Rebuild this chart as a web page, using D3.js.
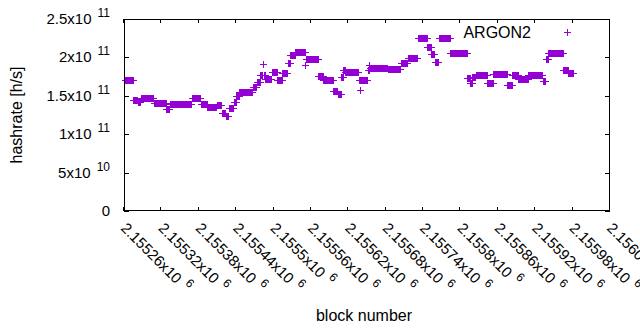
<!DOCTYPE html>
<html><head><meta charset="utf-8">
<script src="https://cdn.jsdelivr.net/npm/d3@7"></script>
<style>body{margin:0;background:#fff}svg{display:block}</style>
</head><body><svg id="c" width="640" height="330"></svg>
<script>
// Runs of consecutive blocks sharing the same hashrate (in units of 1e9 h/s)
const runStart = [2155262,2155275,2155282,2155287,2155308,2155328,2155334,2155369,2155383,2155394,2155409,2155417,2155423,2155428,2155436,2155440,2155445,2155467,2155473,2155479,2155483,2155484,2155487,2155497,2155506,2155514,2155523,2155527,2155535,2155551,2155552,2155572,2155580,2155596,2155603,2155609,2155612,2155615,2155637,2155639,2155640,2155651,2155654,2155655,2155683,2155704,2155715,2155732,2155747,2155753,2155759,2155765,2155784,2155811,2155816,2155819,2155825,2155843,2155853,2155875,2155883,2155893,2155909,2155932,2155937,2155941,2155965,2155973];
const runEnd = [2155274,2155281,2155286,2155307,2155327,2155333,2155368,2155382,2155393,2155408,2155416,2155422,2155427,2155435,2155439,2155444,2155466,2155472,2155478,2155482,2155483,2155486,2155496,2155505,2155513,2155522,2155526,2155534,2155550,2155551,2155571,2155579,2155595,2155602,2155608,2155611,2155614,2155636,2155638,2155639,2155650,2155653,2155654,2155682,2155703,2155714,2155731,2155746,2155752,2155758,2155764,2155783,2155810,2155815,2155818,2155824,2155842,2155852,2155874,2155882,2155892,2155908,2155931,2155936,2155940,2155964,2155972,2155981];
const runHashrate = [170.6,144.5,142,147.1,140,132.8,138.7,146.5,139.3,135,138,128,123.5,134.1,142,150,155.3,161.5,168,177.1,191.4,177.1,171.9,181.6,170.6,180.3,192.7,203.1,207,190,197.9,176.4,170.6,156.3,152.3,174.5,183.6,181,170.6,157.6,170.6,183.6,190.2,186.6,184.9,192.7,199.2,225.3,213.5,204.4,194,225.3,205.7,173.2,166.7,175,177.1,166.7,178.4,164.1,177.1,171.9,177.1,169.3,197.9,205.7,183.6,179.7];
const xTicks = [2155260,2155320,2155380,2155440,2155500,2155560,2155620,2155680,2155740,2155800,2155860,2155920,2155980,2156040];
const yTicks = [0,5e10,1e11,1.5e11,2e11,2.5e11];
const seriesName = "ARGON2";

const svg = d3.select("#c");
const L=124,R=610,T=19,B=211;
const color="#9400d3";
const font="'Liberation Sans', Arial, sans-serif";
const x = d3.scaleLinear().domain([2155260,2156040]).range([L,R]);
const y = d3.scaleLinear().domain([0,2.5e11]).range([B,T]);

// points
const pts=[];
runStart.forEach((s,i)=>{for(let b=s;b<=runEnd[i];b++)pts.push({b,v:runHashrate[i]*1e9});});
const plus=(cx,cy)=>{const px=Math.round(cx)+0.5, py=Math.round(cy)+0.5;return `M${px-3.5},${py}H${px+3.5}M${px},${py-3.5}V${py+3.5}`;};
svg.append("g").selectAll("path").data(pts).join("path")
  .attr("d",d=>plus(x(d.b),y(d.v))).attr("stroke",color).attr("stroke-width",1).attr("fill","none")
  .attr("shape-rendering","crispEdges");

// frame
svg.append("rect").attr("x",L+0.5).attr("y",T+0.5).attr("width",R-L-1).attr("height",B-T-1)
  .attr("fill","none").attr("stroke","#000").attr("stroke-width",1).attr("shape-rendering","crispEdges");

// axes with mirrored ticks
const ax=svg.append("g").attr("stroke","#000").attr("shape-rendering","crispEdges");
yTicks.forEach(v=>{const py=Math.round(y(v))+0.5;
  ax.append("line").attr("x1",L).attr("x2",L+5).attr("y1",py).attr("y2",py);
  ax.append("line").attr("x1",R-5).attr("x2",R).attr("y1",py).attr("y2",py);});
xTicks.forEach(v=>{const px=Math.round(x(v))-0.5;
  ax.append("line").attr("x1",px).attr("x2",px).attr("y1",B).attr("y2",B-4);
  ax.append("line").attr("x1",px).attr("x2",px).attr("y1",T).attr("y2",T+4);});

function sci(v){ if(v===0) return null; const e=Math.floor(Math.log10(v)+1e-9); let m=(v/Math.pow(10,e)).toPrecision(7).replace(/\.?0+$/,""); return {m:m+"x10",e:String(e)}; }

// y tick labels
const fs=15;
yTicks.forEach(v=>{
  const t=svg.append("text").attr("font-family",font).attr("font-size",fs).attr("fill","#000")
    .attr("y",Math.round(y(v))+5).attr("text-anchor","end").attr("x",110);
  const s=sci(v);
  if(!s){t.text("0");return;}
  t.append("tspan").text(s.m);
  t.append("tspan").attr("dx",6).attr("dy",-7).attr("font-size",12).text(s.e);
});
// x tick labels
xTicks.forEach(v=>{
  const s=sci(v);
  const g=svg.append("g").attr("transform",`translate(${x(v)-4},${229}) rotate(45)`);
  const t=g.append("text").attr("font-family",font).attr("font-size",fs).attr("fill","#000");
  t.append("tspan").text(s.m);
  t.append("tspan").attr("dx",6).attr("dy",-7).attr("font-size",12).text(s.e);
});

// axis titles
svg.append("text").attr("font-family",font).attr("font-size",16).attr("fill","#000")
  .attr("text-anchor","middle").attr("transform",`translate(22,${(T+B)/2}) rotate(-90)`).text("hashrate [h/s]");
svg.append("text").attr("font-family",font).attr("font-size",16).attr("fill","#000")
  .attr("text-anchor","middle").attr("x",364).attr("y",321).text("block number");

// legend
svg.append("text").attr("font-family",font).attr("font-size",16).attr("fill","#000")
  .attr("text-anchor","end").attr("x",531).attr("y",38).text(seriesName);
svg.append("path").attr("d",plus(567,32)).attr("stroke",color).attr("fill","none").attr("shape-rendering","crispEdges");
</script></body></html>
